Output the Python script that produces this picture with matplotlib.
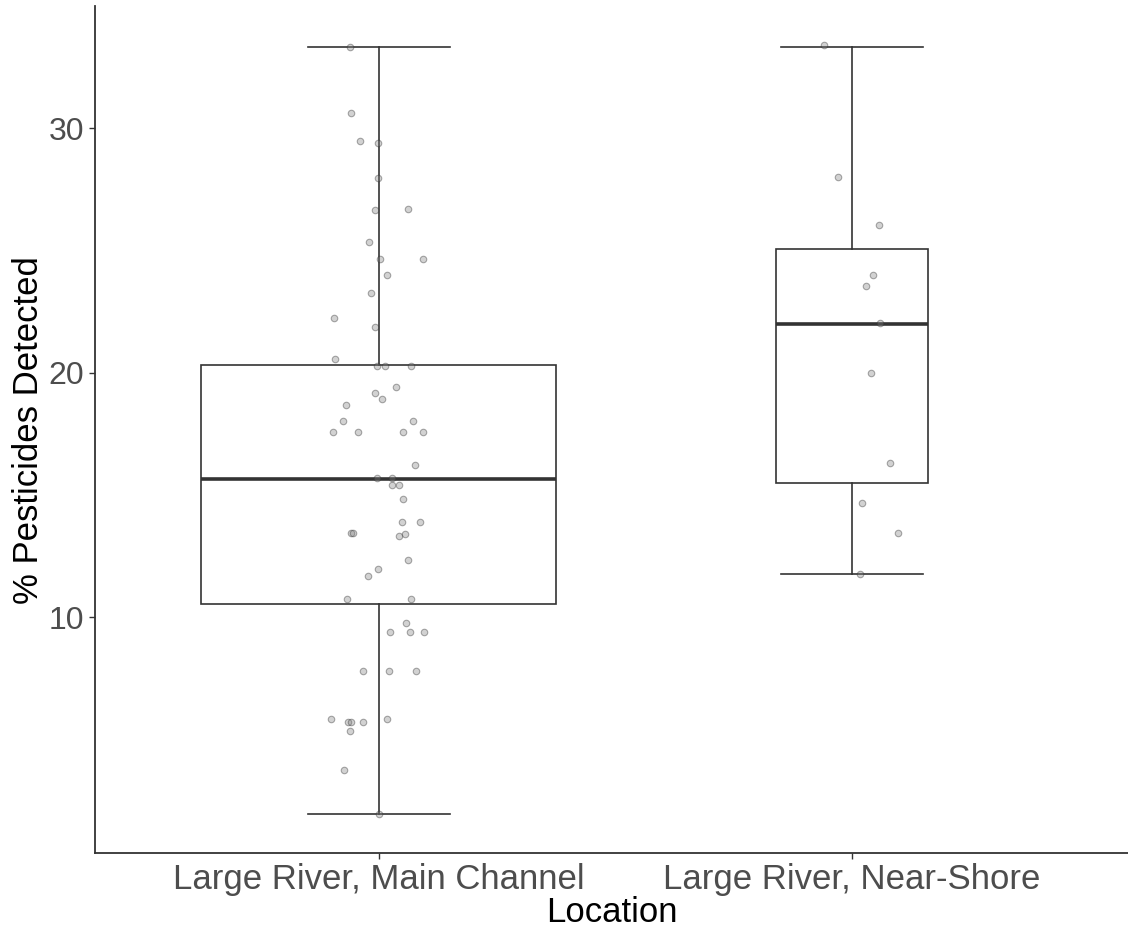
import numpy as np
import matplotlib
matplotlib.use("Agg")
import matplotlib.pyplot as plt

# ------------------------------------------
# Data
# ------------------------------------------
locations = ["Large River, Main Channel", "Large River, Near-Shore"]

# box statistics: whisker low, Q1, median, Q3, whisker high
whislo = [1.93, 11.75]
q1 = [10.53, 15.48]
med = [15.64, 21.98]
q3 = [20.31, 25.05]
whishi = [33.33, 33.33]

# jittered points (value, horizontal jitter offset)
main_vals = [33.33, 30.60, 29.46, 29.40, 27.94, 26.65, 26.70, 25.35, 24.63, 24.63,
             23.99, 23.26, 22.23, 21.87, 20.56, 20.25, 20.25, 20.25, 19.42, 19.17,
             18.92, 18.66, 18.03, 18.03, 17.55, 17.55, 17.55, 17.55, 16.22, 15.70,
             15.70, 15.39, 15.39, 14.85, 13.87, 13.87, 13.46, 13.46, 13.30, 13.41,
             12.32, 11.95, 11.69, 10.75, 10.75, 9.77, 9.41, 9.41, 9.41, 7.79,
             7.79, 7.79, 5.82, 5.72, 5.72, 5.72, 5.82, 5.35, 3.74, 1.93]
main_jit = [-0.060, -0.058, -0.039, -0.001, -0.001, -0.007, 0.061, -0.020, 0.002, 0.093,
            0.018, -0.017, -0.095, -0.009, -0.092, -0.004, 0.013, 0.069, 0.036, -0.009,
            0.007, -0.070, -0.076, 0.072, -0.097, -0.043, 0.052, 0.093, 0.077, -0.004,
            0.029, 0.029, 0.042, 0.052, 0.050, 0.088, -0.059, -0.055, 0.042, 0.055,
            0.061, -0.001, -0.022, -0.067, 0.069, 0.058, 0.023, 0.067, 0.096, -0.033,
            0.021, 0.079, -0.101, -0.065, -0.059, -0.033, 0.018, -0.060, -0.074, 0.001]

shore_vals = [33.41, 28.00, 26.02, 23.99, 23.54, 22.01, 19.99, 16.31, 14.65, 13.46, 11.75]
shore_jit = [-0.059, -0.029, 0.057, 0.044, 0.030, 0.059, 0.041, 0.081, 0.022, 0.097, 0.017]

# ------------------------------------------
# Plot
# ------------------------------------------
plt.rcParams["font.family"] = ["Liberation Sans", "DejaVu Sans"]

fig = plt.figure(figsize=(11.28, 9.32), dpi=100)
ax = fig.add_axes([0.0842, 0.0848, 0.9158, 0.9085])

counts = [len(main_vals), len(shore_vals)]
widths = [0.75 * np.sqrt(n / max(counts)) for n in counts]  # varwidth

stats = []
for i in range(2):
    stats.append(dict(whislo=whislo[i], q1=q1[i], med=med[i], q3=q3[i],
                      whishi=whishi[i], fliers=[]))

box_col = "#333333"
ax.bxp(stats, positions=[1, 2], widths=widths, capwidths=[0.3, 0.3],
       showfliers=False, patch_artist=True,
       boxprops=dict(facecolor="white", edgecolor=box_col, linewidth=1.2),
       medianprops=dict(color=box_col, linewidth=2.6),
       whiskerprops=dict(color=box_col, linewidth=1.2),
       capprops=dict(color=box_col, linewidth=1.2))

for pos, vals, jit in [(1, main_vals, main_jit), (2, shore_vals, shore_jit)]:
    xs = pos + np.array(jit)
    ax.scatter(xs, vals, s=22, facecolor=(0.5, 0.5, 0.5, 0.35),
               edgecolor=(0.2, 0.2, 0.2, 0.4), linewidth=0.8, zorder=5)

ax.set_xlim(0.4, 2.584)
ax.set_ylim(0.356, 34.98)
ax.set_xticks([1, 2])
ax.set_xticklabels(locations)
ax.set_yticks([10, 20, 30])

for s in ["top", "right"]:
    ax.spines[s].set_visible(False)
for s in ["left", "bottom"]:
    ax.spines[s].set_color("#333333")
    ax.spines[s].set_linewidth(1.3)

ax.tick_params(axis="both", colors="#333333", length=4, width=1.0,
               labelcolor="#4d4d4d", pad=4)
ax.tick_params(axis="y", labelsize=23)
ax.tick_params(axis="x", labelsize=25, pad=3)

ax.set_xlabel("Location", fontsize=25, color="black", labelpad=0)
ax.set_ylabel("% Pesticides Detected", fontsize=25, color="black", labelpad=2)

fig.savefig("out.png", dpi=100)
